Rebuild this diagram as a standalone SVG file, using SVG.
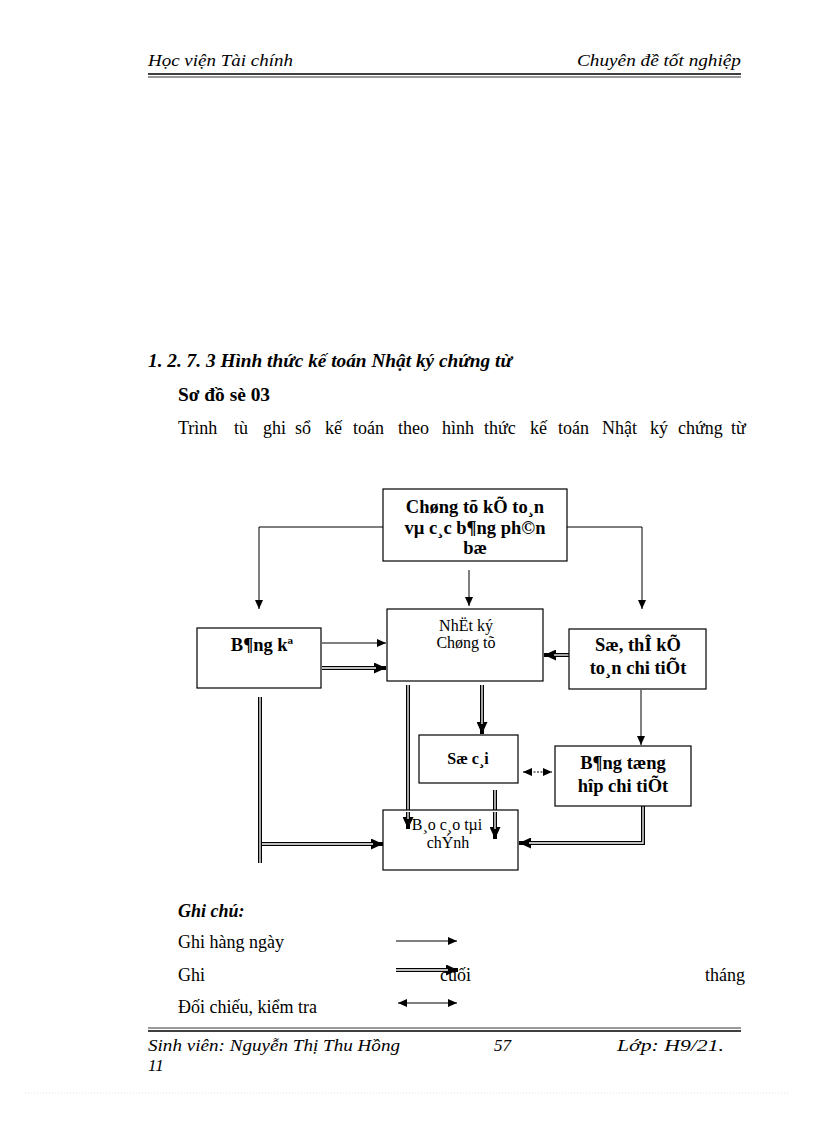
<svg xmlns="http://www.w3.org/2000/svg" width="816" height="1123" viewBox="0 0 816 1123">
<defs>
<style>
text{font-family:"Liberation Serif","Times New Roman",serif;fill:#000}
.hdr{font-style:italic;font-size:17px}
.b{font-weight:bold}
.bi{font-weight:bold;font-style:italic}
.box{fill:#fff;stroke:#000;stroke-width:1.2}
.bt{font-weight:bold;font-size:18.5px;text-anchor:middle}
.rt{font-size:16px;text-anchor:middle}
.lg{font-size:18px}
.s{fill:none;stroke:#000;stroke-width:1}
.d{fill:none;stroke:#000;stroke-width:4}
.w{fill:none;stroke:#fff;stroke-width:1.3}
</style>
<marker id="a" markerUnits="userSpaceOnUse" markerWidth="9" markerHeight="8" refX="9" refY="4" orient="auto"><path d="M0,0L9,4L0,8z" fill="#000"/></marker>
<marker id="as" markerUnits="userSpaceOnUse" markerWidth="9" markerHeight="8" refX="0" refY="4" orient="auto"><path d="M9,0L0,4L9,8z" fill="#000"/></marker>
<marker id="A" markerUnits="userSpaceOnUse" markerWidth="12" markerHeight="11" refX="12" refY="5.5" orient="auto"><path d="M0,0L12,5.5L0,11z" fill="#000"/></marker>
</defs>
<rect width="816" height="1123" fill="#fff"/>

<g id="header">
<text class="hdr" x="148" y="66" textLength="145" lengthAdjust="spacingAndGlyphs">Học viện Tài chính</text>
<text class="hdr" x="577" y="66" textLength="164" lengthAdjust="spacingAndGlyphs">Chuyên đề tốt nghiệp</text>
<line x1="148" y1="74" x2="741" y2="74" stroke="#000" stroke-width="1.5"/>
<line x1="148" y1="77" x2="741" y2="77" stroke="#000" stroke-width="0.8"/>
</g>

<g id="heading">
<text class="bi" x="148" y="367" font-size="18" textLength="364" lengthAdjust="spacingAndGlyphs">1. 2. 7. 3 Hình thức kế toán Nhật ký chứng từ</text>
<text class="b" x="178" y="401" font-size="18" textLength="92" lengthAdjust="spacingAndGlyphs">Sơ đồ sè 03</text>
<text font-size="18" y="434"><tspan x="178">Trình</tspan><tspan x="234">tù</tspan><tspan x="263">ghi</tspan><tspan x="295">sổ</tspan><tspan x="325">kế</tspan><tspan x="353">toán</tspan><tspan x="398">theo</tspan><tspan x="442">hình</tspan><tspan x="484">thức</tspan><tspan x="530">kế</tspan><tspan x="558">toán</tspan><tspan x="602">Nhật</tspan><tspan x="650">ký</tspan><tspan x="678">chứng</tspan><tspan x="731">từ</tspan></text>
</g>

<g id="connectors">
<path class="s" d="M383,527H259V609" marker-end="url(#a)"/>
<path class="s" d="M567,527H642V609" marker-end="url(#a)"/>
<path class="s" d="M469,570V606" marker-end="url(#a)"/>
<path class="s" d="M322,643H386" marker-end="url(#a)"/>
<path class="s" d="M641,690V745" marker-end="url(#a)"/>
<path class="s" d="M523,772H552" stroke-dasharray="2,1.5" marker-start="url(#as)" marker-end="url(#a)"/>
<path class="d" d="M322,668H386" marker-end="url(#A)"/>
<path class="w" d="M322,668H376"/>
<path class="d" d="M569,655H544" marker-end="url(#A)"/>
<path class="w" d="M569,655H554"/>
<path class="d" d="M408,685V829" marker-end="url(#A)"/>
<path class="w" d="M408,685V819" stroke-width="1"/>
<path class="d" d="M482,685V734" marker-end="url(#A)"/>
<path class="w" d="M482,685V724"/>
<path class="d" d="M495,790V839" marker-end="url(#A)"/>
<path class="w" d="M495,790V829" stroke-width="1"/>
<path class="d" d="M643,788V843H519" marker-end="url(#A)"/>
<path class="w" d="M643,788V843H529"/>
<path class="d" d="M260,697V863"/>
<path class="w" d="M260,697V863"/>
<path class="d" d="M262,844H383" marker-end="url(#A)"/>
<path class="w" d="M262,844H373"/>
</g>

<g id="n-chungtu">
<rect class="box" x="383" y="489" width="184" height="72"/>
<text class="bt" x="475" y="513">Chøng tõ kÕ to¸n</text>
<text class="bt" x="475" y="534">vµ c¸c b¶ng ph©n</text>
<text class="bt" x="475" y="554">bæ</text>
</g>
<g id="n-bangke">
<rect class="box" x="197" y="628" width="124" height="60"/>
<text class="bt" x="262" y="651" font-size="19">B¶ng kª</text>
</g>
<g id="n-nhatky">
<rect class="box" x="387" y="609" width="156" height="72"/>
<text class="rt" x="466" y="631">NhËt ký</text>
<text class="rt" x="466" y="648">Chøng tõ</text>
</g>
<g id="n-sothe">
<rect class="box" x="569" y="629" width="137" height="60"/>
<text class="bt" x="638" y="651">Sæ, thÎ kÕ</text>
<text class="bt" x="638" y="674">to¸n chi tiÕt</text>
</g>
<g id="n-socai">
<rect class="box" x="419" y="735" width="99" height="48"/>
<text class="rt b" x="468" y="764" font-size="15">Sæ c¸i</text>
</g>
<g id="n-bangtonghop">
<rect class="box" x="555" y="746" width="136" height="60"/>
<text class="bt" x="623" y="769">B¶ng tæng</text>
<text class="bt" x="623" y="792">hîp chi tiÕt</text>
</g>
<g id="n-baocao">
<rect class="box" x="383" y="810" width="135" height="60"/>
<text class="rt" x="447" y="830" font-size="17">B¸o c¸o tµi</text>
<text class="rt" x="448" y="848" font-size="17">chÝnh</text>
</g>
<path class="d" d="M408,812V829" marker-end="url(#A)"/>
<path class="w" d="M408,812V819" stroke-width="1"/>
<path class="d" d="M495,812V839" marker-end="url(#A)"/>
<path class="w" d="M495,812V829" stroke-width="1"/>

<g id="legend">
<text class="bi" x="178" y="917" font-size="18">Ghi chú:</text>
<text class="lg" x="178" y="948">Ghi hàng ngày</text>
<path class="s" d="M396,941H457" marker-end="url(#a)"/>
<text class="lg" x="178" y="981">Ghi</text>
<text class="lg" x="440" y="981">cuối</text>
<text class="lg" x="745" y="981" text-anchor="end">tháng</text>
<path class="d" d="M396,970H458" marker-end="url(#A)"/>
<path class="w" d="M396,970H448"/>
<text class="lg" x="178" y="1013">Đối chiếu, kiểm tra</text>
<path class="s" d="M398,1003H457" marker-start="url(#as)" marker-end="url(#a)"/>
</g>

<g id="footer">
<line x1="148" y1="1028" x2="741" y2="1028" stroke="#000" stroke-width="0.8"/>
<line x1="148" y1="1031" x2="741" y2="1031" stroke="#000" stroke-width="1.5"/>
<text class="hdr" x="148" y="1051" textLength="252" lengthAdjust="spacingAndGlyphs">Sinh viên: Nguyễn Thị Thu Hồng</text>
<text class="hdr" x="494" y="1051">57</text>
<text class="hdr" x="617" y="1051" textLength="107" lengthAdjust="spacingAndGlyphs">Lớp: H9/21.</text>
<text class="hdr" x="148" y="1071">11</text>
<line x1="25" y1="1093" x2="790" y2="1093" stroke="#ccc" stroke-width="0.6" stroke-dasharray="1,2"/>
</g>
</svg>
